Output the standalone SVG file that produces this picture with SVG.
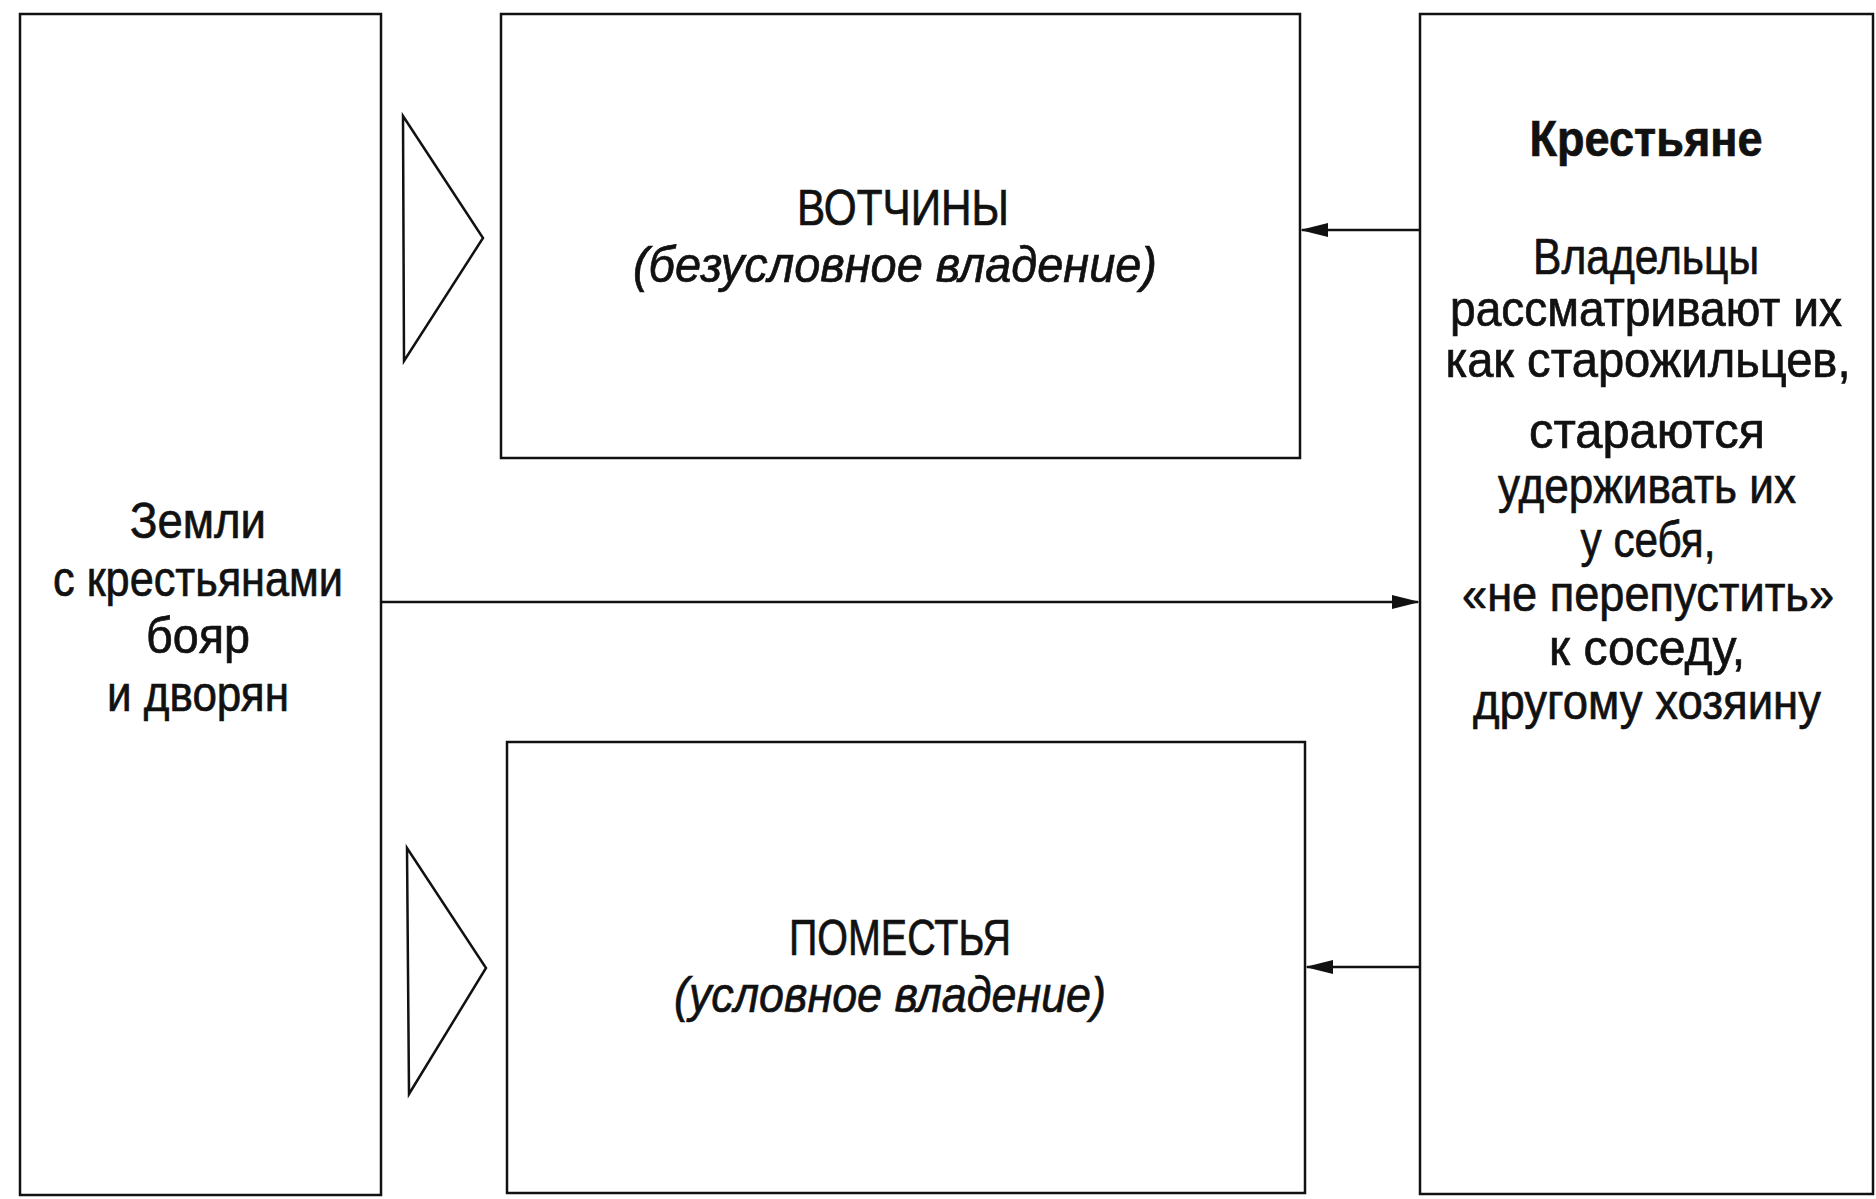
<svg xmlns="http://www.w3.org/2000/svg" width="1876" height="1199" viewBox="0 0 1876 1199">
  <style>
    .box { fill: #ffffff; stroke: #111111; stroke-width: 2.5; }
    .tri { fill: #ffffff; stroke: #111111; stroke-width: 2.5; stroke-linejoin: miter; }
    .conn { stroke: #111111; stroke-width: 2.5; fill: none; }
    .t { font-family: "Liberation Sans", Arial, sans-serif; font-size: 50px; fill: #111111; stroke: #111111; stroke-width: 0.7; text-anchor: middle; }
    .i { font-style: italic; }
    .b { font-weight: bold; }
  </style>
  <defs>
    <marker id="ah" markerWidth="28" markerHeight="18" refX="26" refY="9" orient="auto" markerUnits="userSpaceOnUse">
      <path d="M0,2 L28,9 L0,16 Z" fill="#111111"/>
    </marker>
  </defs>
  <rect x="0" y="0" width="1876" height="1199" fill="#ffffff"/>

  <g id="node-zemli">
    <rect class="box" x="20" y="14" width="361" height="1181"/>
    <text class="t" x="198" y="538" textLength="136" lengthAdjust="spacingAndGlyphs">Земли</text>
    <text class="t" x="198" y="596" textLength="290" lengthAdjust="spacingAndGlyphs">с крестьянами</text>
    <text class="t" x="198" y="653" textLength="104" lengthAdjust="spacingAndGlyphs">бояр</text>
    <text class="t" x="198" y="711" textLength="182" lengthAdjust="spacingAndGlyphs">и дворян</text>
  </g>

  <g id="node-votchiny">
    <rect class="box" x="501" y="14" width="799" height="444"/>
    <text class="t" x="903" y="225" textLength="212" lengthAdjust="spacingAndGlyphs">ВОТЧИНЫ</text>
    <text class="t i" x="895" y="282" textLength="524" lengthAdjust="spacingAndGlyphs">(безусловное владение)</text>
  </g>

  <g id="node-pomestya">
    <rect class="box" x="507" y="742" width="798" height="451"/>
    <text class="t" x="900" y="955" textLength="222" lengthAdjust="spacingAndGlyphs">ПОМЕСТЬЯ</text>
    <text class="t i" x="890" y="1012" textLength="432" lengthAdjust="spacingAndGlyphs">(условное владение)</text>
  </g>

  <g id="node-krestyane">
    <rect class="box" x="1420" y="14" width="453" height="1180"/>
    <text class="t b" x="1646" y="156" textLength="233" lengthAdjust="spacingAndGlyphs">Крестьяне</text>
    <text class="t" x="1646" y="274" textLength="226" lengthAdjust="spacingAndGlyphs">Владельцы</text>
    <text class="t" x="1646" y="326" textLength="392" lengthAdjust="spacingAndGlyphs">рассматривают их</text>
    <text class="t" x="1648" y="377" textLength="405" lengthAdjust="spacingAndGlyphs">как старожильцев,</text>
    <text class="t" x="1647" y="448" textLength="236" lengthAdjust="spacingAndGlyphs">стараются</text>
    <text class="t" x="1647" y="503" textLength="298" lengthAdjust="spacingAndGlyphs">удерживать их</text>
    <text class="t" x="1648" y="557" textLength="135" lengthAdjust="spacingAndGlyphs">у себя,</text>
    <text class="t" x="1648" y="611" textLength="372" lengthAdjust="spacingAndGlyphs">«не перепустить»</text>
    <text class="t" x="1647" y="665" textLength="196" lengthAdjust="spacingAndGlyphs">к соседу,</text>
    <text class="t" x="1647" y="719" textLength="348" lengthAdjust="spacingAndGlyphs">другому хозяину</text>
  </g>

  <g id="triangles">
    <polygon class="tri" points="403,116 404,361 483,238"/>
    <polygon class="tri" points="407,848 409,1094 486,968"/>
  </g>

  <g id="connectors">
    <line class="conn" x1="1420" y1="230" x2="1302" y2="230" marker-end="url(#ah)"/>
    <line class="conn" x1="381" y1="602" x2="1418" y2="602" marker-end="url(#ah)"/>
    <line class="conn" x1="1420" y1="967" x2="1307" y2="967" marker-end="url(#ah)"/>
  </g>
</svg>
